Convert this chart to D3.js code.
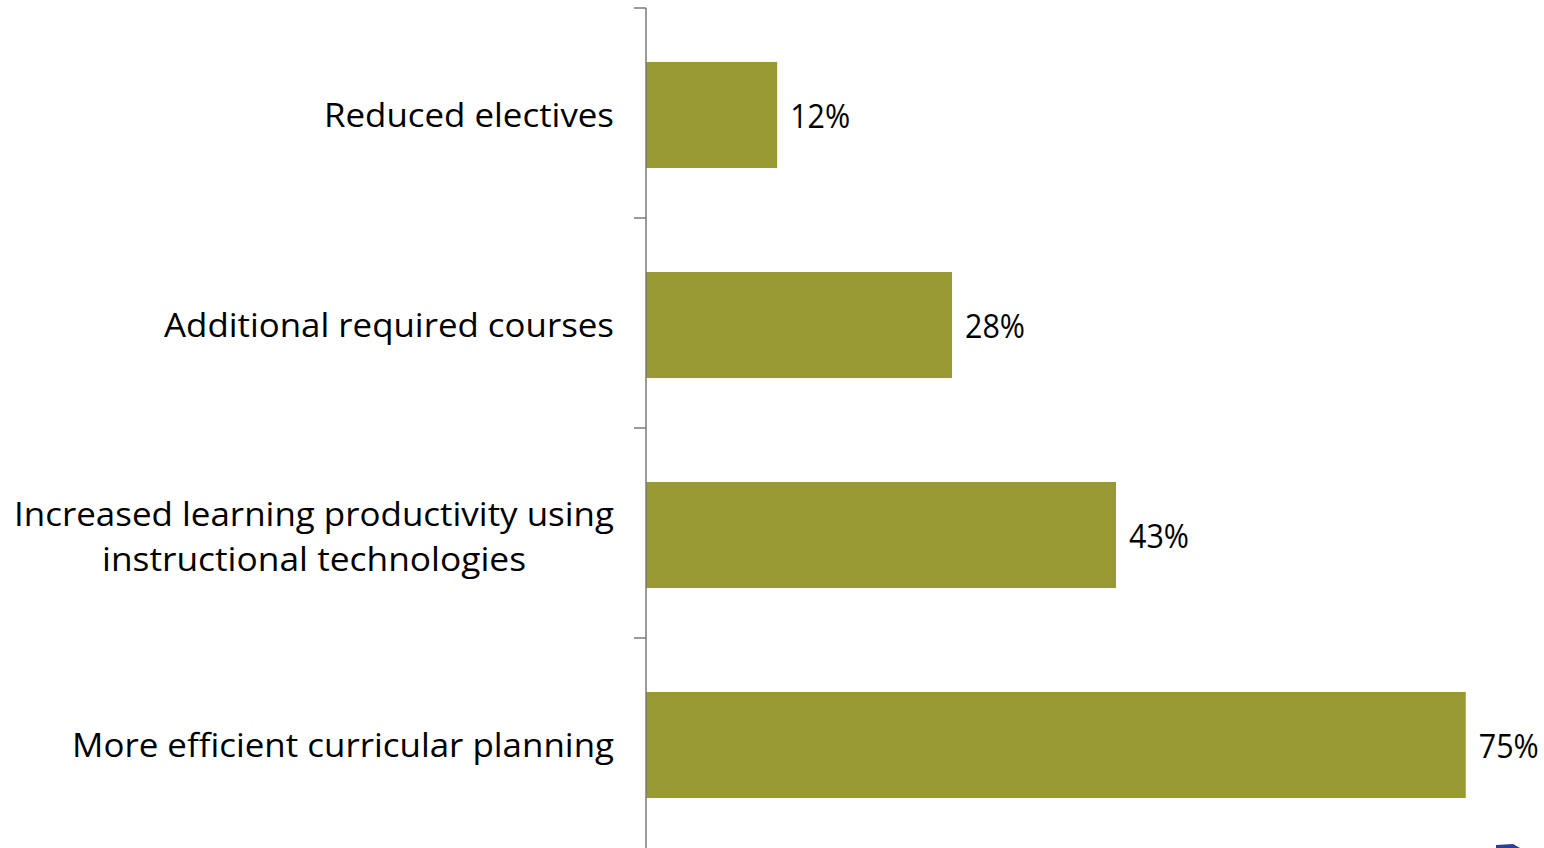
<!DOCTYPE html>
<html>
<head>
<meta charset="utf-8">
<script src="https://cdn.jsdelivr.net/npm/d3@7"></script>
<style>
  html, body { margin: 0; padding: 0; background: #ffffff; }
  svg { display: block; }
  text { font-family: "Open Sans", "Liberation Sans", sans-serif; fill: #000; }
</style>
</head>
<body>
<svg id="chart" width="1544" height="848"></svg>
<script>
// Survey responses: share of respondents per outcome
const categories = [
  "Reduced electives",
  "Additional required courses",
  "Increased learning productivity using instructional technologies",
  "More efficient curricular planning"
];
// category labels as they wrap onto lines
const labelLines = [
  ["Reduced electives"],
  ["Additional required courses"],
  ["Increased learning productivity using", "instructional technologies"],
  ["More efficient curricular planning"]
];
const values = [12, 28, 43, 75];
const valueLabels = ["12%", "28%", "43%", "75%"];

// rendered widths of each text line (layout)
const lineWidths = {
  "Reduced electives": 290,
  "Additional required courses": 450,
  "Increased learning productivity using": 600,
  "instructional technologies": 424,
  "More efficient curricular planning": 542
};
const valueLabelWidth = 60;

const svg = d3.select("#chart");
const W = 1544, H = 848;
const axisX = 646;

const x = d3.scaleLinear().domain([0, 80]).range([axisX, axisX + 80 * 10.93]);
// one band per category; tick marks sit on band boundaries
const y = d3.scaleBand().domain(categories).range([8, 848]).padding(0);
const barOffset = y.step() * 0.257;
const barHeight = y.step() * 0.505;

// bars
svg.append("g").selectAll("rect")
  .data(categories)
  .join("rect")
  .attr("x", x(0))
  .attr("y", d => y(d) + barOffset)
  .attr("width", (d, i) => x(values[i]) - x(0))
  .attr("height", barHeight)
  .attr("fill", "#999933");

// category axis: line plus tick marks at band boundaries
const axisG = svg.append("g");
axisG.append("line")
  .attr("x1", axisX).attr("x2", axisX)
  .attr("y1", y.range()[0]).attr("y2", H)
  .attr("stroke", "#7a7a7a").attr("stroke-width", 1.5);
axisG.selectAll("line.tick")
  .data(categories)
  .join("line")
  .attr("class", "tick")
  .attr("x1", axisX - 12).attr("x2", axisX)
  .attr("y1", d => y(d)).attr("y2", d => y(d))
  .attr("stroke", "#7a7a7a").attr("stroke-width", 1.5);

// category labels (right-aligned block, lines centered within block)
const fontSize = 33;
const lineGap = 45;
const labelRight = 614;
const labelG = svg.append("g");
categories.forEach((c, i) => {
  const lines = labelLines[i];
  const blockW = d3.max(lines, l => lineWidths[l]);
  const cx = labelRight - blockW / 2;
  const mid = y(c) + barOffset + barHeight / 2;
  const firstBase = mid + 12 - (lines.length - 1) * lineGap / 2 + (lines.length > 1 ? 1.5 : 0);
  lines.forEach((l, j) => {
    labelG.append("text")
      .attr("x", cx)
      .attr("y", firstBase + j * lineGap)
      .attr("text-anchor", "middle")
      .attr("font-size", fontSize)
      .attr("textLength", lineWidths[l])
      .attr("lengthAdjust", "spacingAndGlyphs")
      .text(l);
  });
});

// value labels at bar ends
svg.append("g").selectAll("text")
  .data(categories)
  .join("text")
  .attr("x", (d, i) => x(values[i]) + 13)
  .attr("y", d => y(d) + barOffset + barHeight / 2 + 13)
  .attr("font-size", fontSize)
  .attr("textLength", valueLabelWidth)
  .attr("lengthAdjust", "spacingAndGlyphs")
  .text((d, i) => valueLabels[i]);

// corner mark at bottom right
svg.append("path")
  .attr("d", "M1496,845 L1513,844 L1520,848 L1496,848 Z")
  .attr("fill", "#2b3f93");
</script>
</body>
</html>
